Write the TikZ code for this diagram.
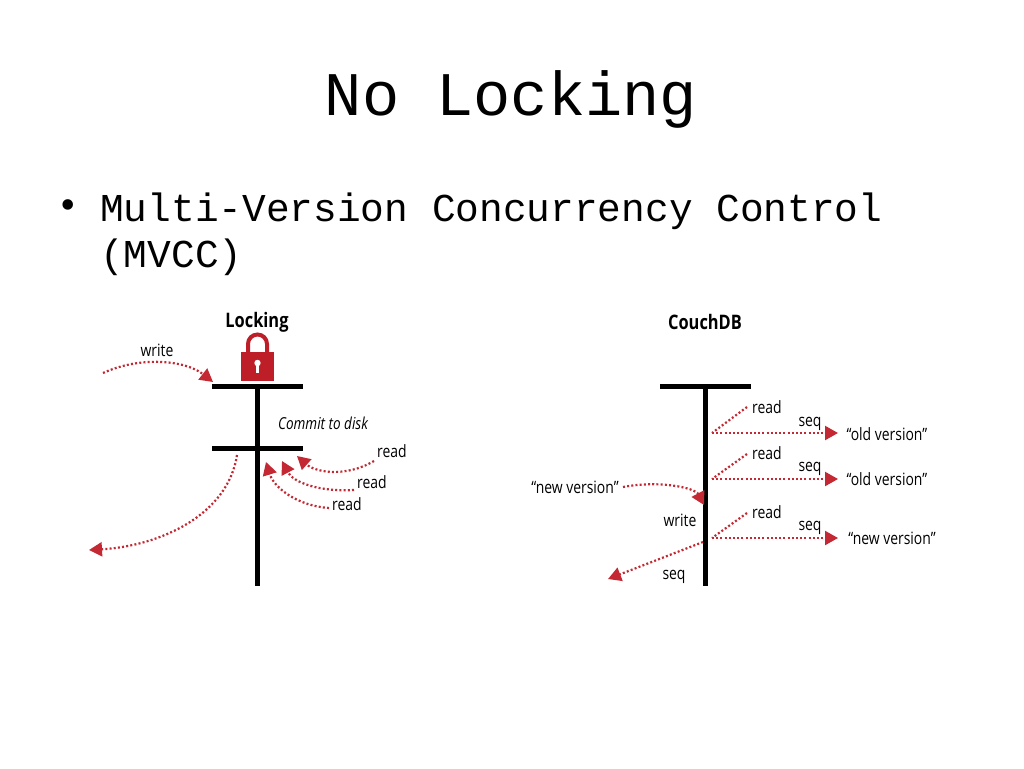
\documentclass[tikz,border=0pt]{standalone}
\usepackage{fontspec}
\setmainfont{Liberation Serif}
\newfontfamily\monofont{Liberation Mono}
\newfontfamily\labfont[FakeStretch=0.82]{Open Sans}
\usetikzlibrary{arrows.meta}
\definecolor{arr}{RGB}{196,40,50}
\definecolor{lockred}{RGB}{190,30,40}
\begin{document}
\begin{tikzpicture}[x=1pt,y=-1pt,
  dots/.style={draw=arr, line width=2.2pt, dash pattern=on 2pt off 2.2pt, line cap=butt},
  arrowdots/.style={dots, -{Triangle[length=13pt,width=14pt]}},
  bar/.style={draw=black, line width=5pt},
  lab/.style={inner sep=0pt, font=\labfont\fontsize{17}{17}\selectfont},
  head/.style={inner sep=0pt, font=\labfont\bfseries\fontsize{20}{20}\selectfont}]
\useasboundingbox (0,0) rectangle (1024,768);
\fill[white] (0,0) rectangle (1024,768);
% title and bullet
\node[inner sep=0pt, anchor=base, font=\monofont\fontsize{62}{62}\selectfont] (title) at (511,115) {No Locking};
\node[inner sep=0pt, font=\fontsize{44}{44}\selectfont] (bul) at (68,210) {•};
\node[inner sep=0pt, anchor=base west, font=\monofont\fontsize{39.5}{39.5}\selectfont] (l1) at (100,221) {Multi-Version Concurrency Control};
\node[inner sep=0pt, anchor=base west, font=\monofont\fontsize{39.5}{39.5}\selectfont] (l2) at (100,267) {(MVCC)};
% ---- Locking ----
\node[head] (lk) at (257,322) {Locking};
% lock icon
\draw[lockred, line width=4pt] (248,354) -- (248,344) arc[start angle=180, end angle=360, radius=9.5] -- (267,354);
\fill[lockred] (241,352) rectangle (274,381);
\fill[white] (257.5,363) circle (3.2);
\fill[white] (256,364) rectangle (259,373);
\coordinate (lt1) at (212,386); \coordinate (lt2) at (303,386);
\coordinate (lb1) at (212,448); \coordinate (lb2) at (303,448);
\coordinate (lvt) at (257,384); \coordinate (lvb) at (257,586);
\draw[bar] (lt1) -- (lt2);
\draw[bar] (lb1) -- (lb2);
\draw[bar] (lvt) -- (lvb);
\node[lab, font=\labfont\itshape\fontsize{16.5}{16.5}\selectfont] (cd) at (323,423) {Commit to disk};
\node[lab] (wr) at (157,350) {write};
\coordinate (ws) at (103,373); \coordinate (we) at (213,382);
\draw[arrowdots] (ws) .. controls (140,356) and (185,360) .. (we);
\coordinate (ds) at (237,455); \coordinate (de) at (89,550);
\draw[arrowdots] (ds) .. controls (228,515) and (160,546) .. (de);
\node[lab] (r1) at (392,451) {read};
\node[lab] (r2) at (372,482) {read};
\node[lab] (r3) at (347,504) {read};
\coordinate (r1s) at (374,461); \coordinate (r1e) at (297,456);
\coordinate (r2s) at (354,490); \coordinate (r2e) at (282,461);
\coordinate (r3s) at (329,508); \coordinate (r3e) at (266,462);
\draw[arrowdots] (r1s) .. controls (345,478) and (315,472) .. (r1e);
\draw[arrowdots] (r2s) .. controls (318,492) and (293,482) .. (r2e);
\draw[arrowdots] (r3s) .. controls (298,506) and (274,488) .. (r3e);
% ---- CouchDB ----
\node[head] (cdb) at (705,322) {CouchDB};
\coordinate (ct1) at (660,386); \coordinate (ct2) at (751,386);
\coordinate (cvt) at (705,384); \coordinate (cvb) at (705,586);
\draw[bar] (ct1) -- (ct2);
\draw[bar] (cvt) -- (cvb);
% group 1
\node[lab] (cr1) at (767,407) {read};
\node[lab] (cs1) at (810,424) {seq};
\node[lab] (co1) at (887,434) {“old version”};
\coordinate (c1a) at (747,407); \coordinate (c1b) at (712,433); \coordinate (c1c) at (838,433);
\draw[dots] (c1a) -- (c1b);
\draw[arrowdots] (c1b) -- (c1c);
% group 2
\node[lab] (cr2) at (767,453) {read};
\node[lab] (cs2) at (810,469) {seq};
\node[lab] (co2) at (887,479) {“old version”};
\coordinate (c2a) at (747,454); \coordinate (c2b) at (712,479); \coordinate (c2c) at (838,479);
\draw[dots] (c2a) -- (c2b);
\draw[arrowdots] (c2b) -- (c2c);
% group 3
\node[lab] (cr3) at (767,512) {read};
\node[lab] (cs3) at (810,528) {seq};
\node[lab] (co3) at (892,538) {“new version”};
\coordinate (c3a) at (747,513); \coordinate (c3b) at (712,538); \coordinate (c3c) at (838,538);
\draw[dots] (c3a) -- (c3b);
\draw[arrowdots] (c3b) -- (c3c);
% write
\node[lab] (nv) at (575,487) {“new version”};
\node[lab] (cw) at (680,520) {write};
\coordinate (cws) at (623,487); \coordinate (cwe) at (704,505);
\draw[arrowdots] (cws) .. controls (660,480) and (695,488) .. (cwe);
\node[lab] (cs4) at (674,577) {seq};
\coordinate (cqs) at (703,542); \coordinate (cqe) at (608,579);
\draw[arrowdots] (cqs) -- (cqe);
\end{tikzpicture}
\end{document}
